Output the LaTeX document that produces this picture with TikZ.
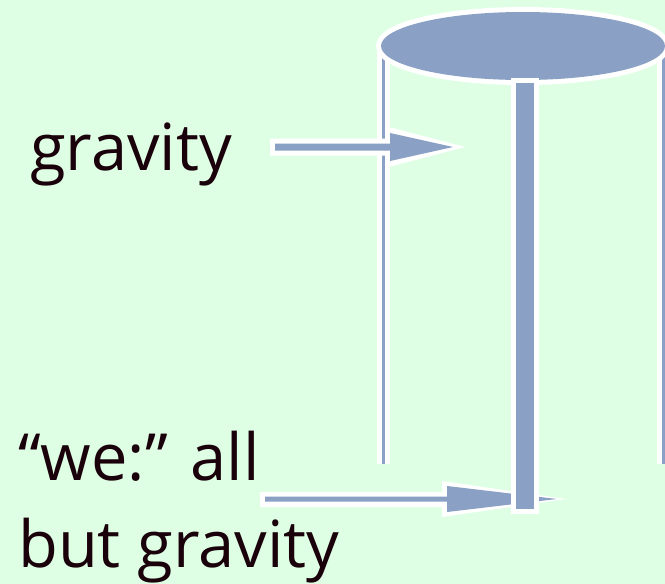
\documentclass[tikz,border=0pt]{standalone}
\usepackage{fontspec}
\setmainfont{Open Sans}
\definecolor{bg}{RGB}{222,255,228}
\definecolor{steel}{RGB}{138,160,196}
\definecolor{ink}{RGB}{26,0,10}
\begin{document}
\begin{tikzpicture}[x=1pt,y=-1pt,
  halo/.style={draw=white,line width=10pt},
  halofill/.style={fill=white},
  body/.style={fill=steel},
  label/.style={anchor=base west,inner sep=0pt,text=ink,font=\fontsize{65}{72}\selectfont}]
\fill[bg] (0,0) rectangle (665,584);
\useasboundingbox (0,0) rectangle (665,584);
% side lines of the cylinder
\coordinate (lt) at (383.5,48); \coordinate (lb) at (383.5,464);
\coordinate (rt) at (663.5,48); \coordinate (rb) at (663.5,464);
\draw[white,line width=13pt] (lt) -- (lb);
\draw[white,line width=13pt] (rt) -- (rb);
\draw[steel,line width=3pt] (lt) -- (lb);
\draw[steel,line width=3pt] (rt) -- (rb);
% top disk
\coordinate (disk) at (523,46);
\draw[halo] (disk) ellipse [x radius=142,y radius=34];
\fill[steel] (disk) ellipse [x radius=142,y radius=34];
% gravity arrow
\path[halofill] (270,138.5) -- (385,138.5) -- (385,126) -- (465,147) -- (385,168) -- (385,155.5) -- (270,155.5) -- cycle;
\path[body] (275,143.5) -- (390,143.5) -- (390,133) -- (453,147) -- (390,161) -- (390,150.5) -- (275,150.5) -- cycle;
% "we" arrow
\path[halofill] (260,492) -- (442,492) -- (442,481) -- (566,499) -- (442,517) -- (442,507) -- (260,507) -- cycle;
\path[body] (265,496.5) -- (447,496.5) -- (447,486) -- (557,499) -- (447,512) -- (447,501.5) -- (265,501.5) -- cycle;
% central bar
\draw[halo] (516,83) rectangle (534,509);
\fill[steel] (516,83) rectangle (534,509);
% labels
\node[label] (grav) at (30,170) {gravity};
\node[label] (we) at (18,480) {“we:” all};
\node[label] (but) at (18,567) {but gravity};
\end{tikzpicture}
\end{document}
